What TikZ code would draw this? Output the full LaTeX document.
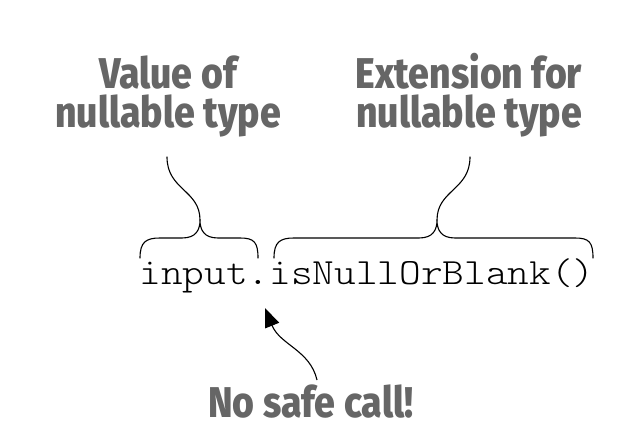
\documentclass[tikz,border=0pt]{standalone}
\usepackage{fontspec}
\newfontfamily\lblfont{Fira Sans}[UprightFont=* ExtraBold]
\newfontfamily\codefont{Latin Modern Mono Light}
\usetikzlibrary{arrows.meta}
\definecolor{lblgray}{HTML}{666666}
\tikzset{
  lbl/.style={font=\lblfont\fontsize{43}{39}\selectfont, text=lblgray, align=center, inner sep=0pt, xscale=0.87, transform shape},
  code/.style={font=\codefont\fontsize{37}{40}\selectfont, inner sep=0pt, xscale=1.115, transform shape},
  brace/.style={line width=1.1pt, line join=round, line cap=round},
  pointer/.style={line width=1.1pt, -{Triangle[length=19pt,width=15pt]}}
}
\begin{document}
\begin{tikzpicture}[x=1pt,y=-1pt]
\useasboundingbox (0,0) rectangle (634,446);
\node[lbl, anchor=base] (val) at (168,128) {Value of\\nullable type};
\node[lbl, anchor=base] (ext) at (469,128) {Extension for\\nullable type};
\node[code, anchor=base] (expr) at (367,284) {input.isNullOrBlank()};
\node[lbl, anchor=base] (nosafe) at (311,417) {No safe call!};
\coordinate (valtip) at (167,157);
\coordinate (exttip) at (470,157);
\coordinate (arrtip) at (265,308);
\coordinate (arrstart) at (317,380);
% left brace
\draw[brace] (140,258) .. controls (140,242) and (146,238) .. (160,238)
  -- (182,238) .. controls (196,238) and (200,230) .. (200,220)
  .. controls (200,230) and (204,238) .. (218,238)
  -- (240,238) .. controls (254,238) and (258,242) .. (258,258);
\draw[brace] (200,220) .. controls (200,190) and (167,190) .. (valtip);
% right brace
\draw[brace] (274,258) .. controls (274,242) and (280,238) .. (294,238)
  -- (419,238) .. controls (433,238) and (437,230) .. (437,220)
  .. controls (437,230) and (441,238) .. (455,238)
  -- (575,238) .. controls (589,238) and (593,242) .. (593,258);
\draw[brace] (437,220) .. controls (437,190) and (470,190) .. (exttip);
% arrow
\draw[pointer] (arrstart) .. controls (310,350) and (280,345) .. (arrtip);
\end{tikzpicture}
\end{document}
